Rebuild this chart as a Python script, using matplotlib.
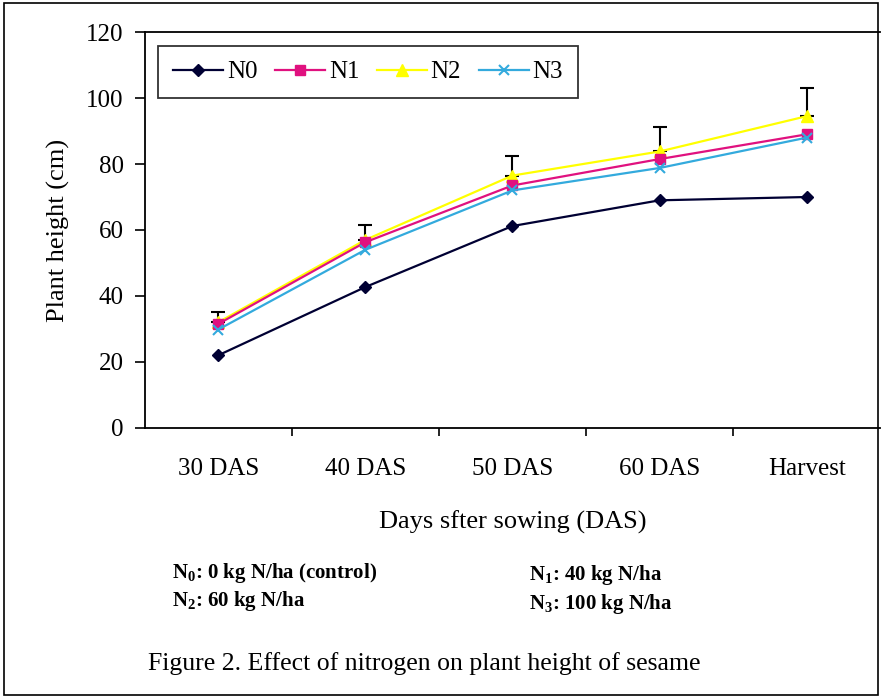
import matplotlib
matplotlib.use('Agg')
import matplotlib.pyplot as plt
from matplotlib.patches import Rectangle

plt.rcParams['font.family'] = ['Liberation Serif', 'DejaVu Serif']
plt.rcParams['mathtext.fontset'] = 'custom'
plt.rcParams['mathtext.rm'] = 'Liberation Serif'
plt.rcParams['mathtext.bf'] = 'Liberation Serif:bold'
plt.rcParams['mathtext.it'] = 'Liberation Serif:italic'

# Data
stages = ['30 DAS', '40 DAS', '50 DAS', '60 DAS', 'Harvest']
n0 = [22.0, 42.7, 61.2, 69.0, 70.0]
n1 = [31.5, 56.3, 73.5, 81.5, 89.0]
n2 = [32.0, 57.0, 76.5, 83.8, 94.5]
n3 = [29.8, 54.0, 72.0, 78.8, 88.0]
n2_err = [3.0, 4.5, 6.0, 7.5, 8.5]

x = list(range(len(stages)))

fig = plt.figure(figsize=(8.82, 6.98), dpi=100)
ax = fig.add_axes([0.164, 0.387, 0.834, 0.567])

ax.errorbar(x, n2, yerr=[[0] * len(n2_err), n2_err], fmt='none', ecolor='black',
            elinewidth=1.5, capsize=5, capthick=1.5, zorder=1)
ax.plot(x, n0, color='#000033', marker='D', markersize=6, lw=1.6, label='N0', zorder=3)
ax.plot(x, n1, color='#E0117F', marker='s', markersize=7, lw=1.6, label='N1', zorder=3)
ax.plot(x, n2, color='#FFFF00', marker='^', markersize=8, lw=1.6, label='N2', zorder=2)
ax.plot(x, n3, color='#33AADD', marker='x', markersize=7, mew=1.5, lw=1.6, label='N3', zorder=4)

ax.set_xlim(-0.5, len(stages) - 0.5)
ax.set_ylim(0, 120)
ax.set_yticks(range(0, 121, 20))
ax.set_xticks(x)
ax.set_xticklabels(stages, fontsize=18)
ax.set_xticks([i + 0.5 for i in x[:-1]], minor=True)
ax.tick_params(axis='x', which='major', length=0, pad=22)
ax.tick_params(axis='x', which='minor', length=6, width=1.2, direction='out')
ax.tick_params(axis='y', labelsize=18, length=7, width=1.2, direction='out', pad=8)
for s in ax.spines.values():
    s.set_linewidth(1.3)
ax.spines['right'].set_visible(False)

ax.set_ylabel('Plant height (cm)', fontsize=19, labelpad=12)
ax.set_xlabel('Days sfter sowing (DAS)', fontsize=19, labelpad=22)

leg = ax.legend(loc='upper left', ncol=4, fontsize=18, frameon=True, fancybox=False,
                edgecolor='black', handlelength=2.0, handletextpad=0.15, columnspacing=0.7,
                borderaxespad=0.55, borderpad=0.6)
leg.get_frame().set_linewidth(1.3)

note_kw = dict(fontsize=15, fontweight='bold', va='center')
fig.text(0.195, 0.179, r'N$_\mathbf{0}$: 0 kg N/ha (control)', **note_kw)
fig.text(0.195, 0.139, r'N$_\mathbf{2}$: 60 kg N/ha', **note_kw)
fig.text(0.600, 0.176, r'N$_\mathbf{1}$: 40 kg N/ha', **note_kw)
fig.text(0.600, 0.134, r'N$_\mathbf{3}$: 100 kg N/ha', **note_kw)
fig.text(0.168, 0.050, 'Figure 2. Effect of nitrogen on plant height of sesame',
         fontsize=18.5, va='center')

fig.patches.append(Rectangle((0.004, 0.005), 0.992, 0.99, transform=fig.transFigure,
                             fill=False, edgecolor='black', linewidth=1.2))

fig.savefig('out.png', dpi=100)
